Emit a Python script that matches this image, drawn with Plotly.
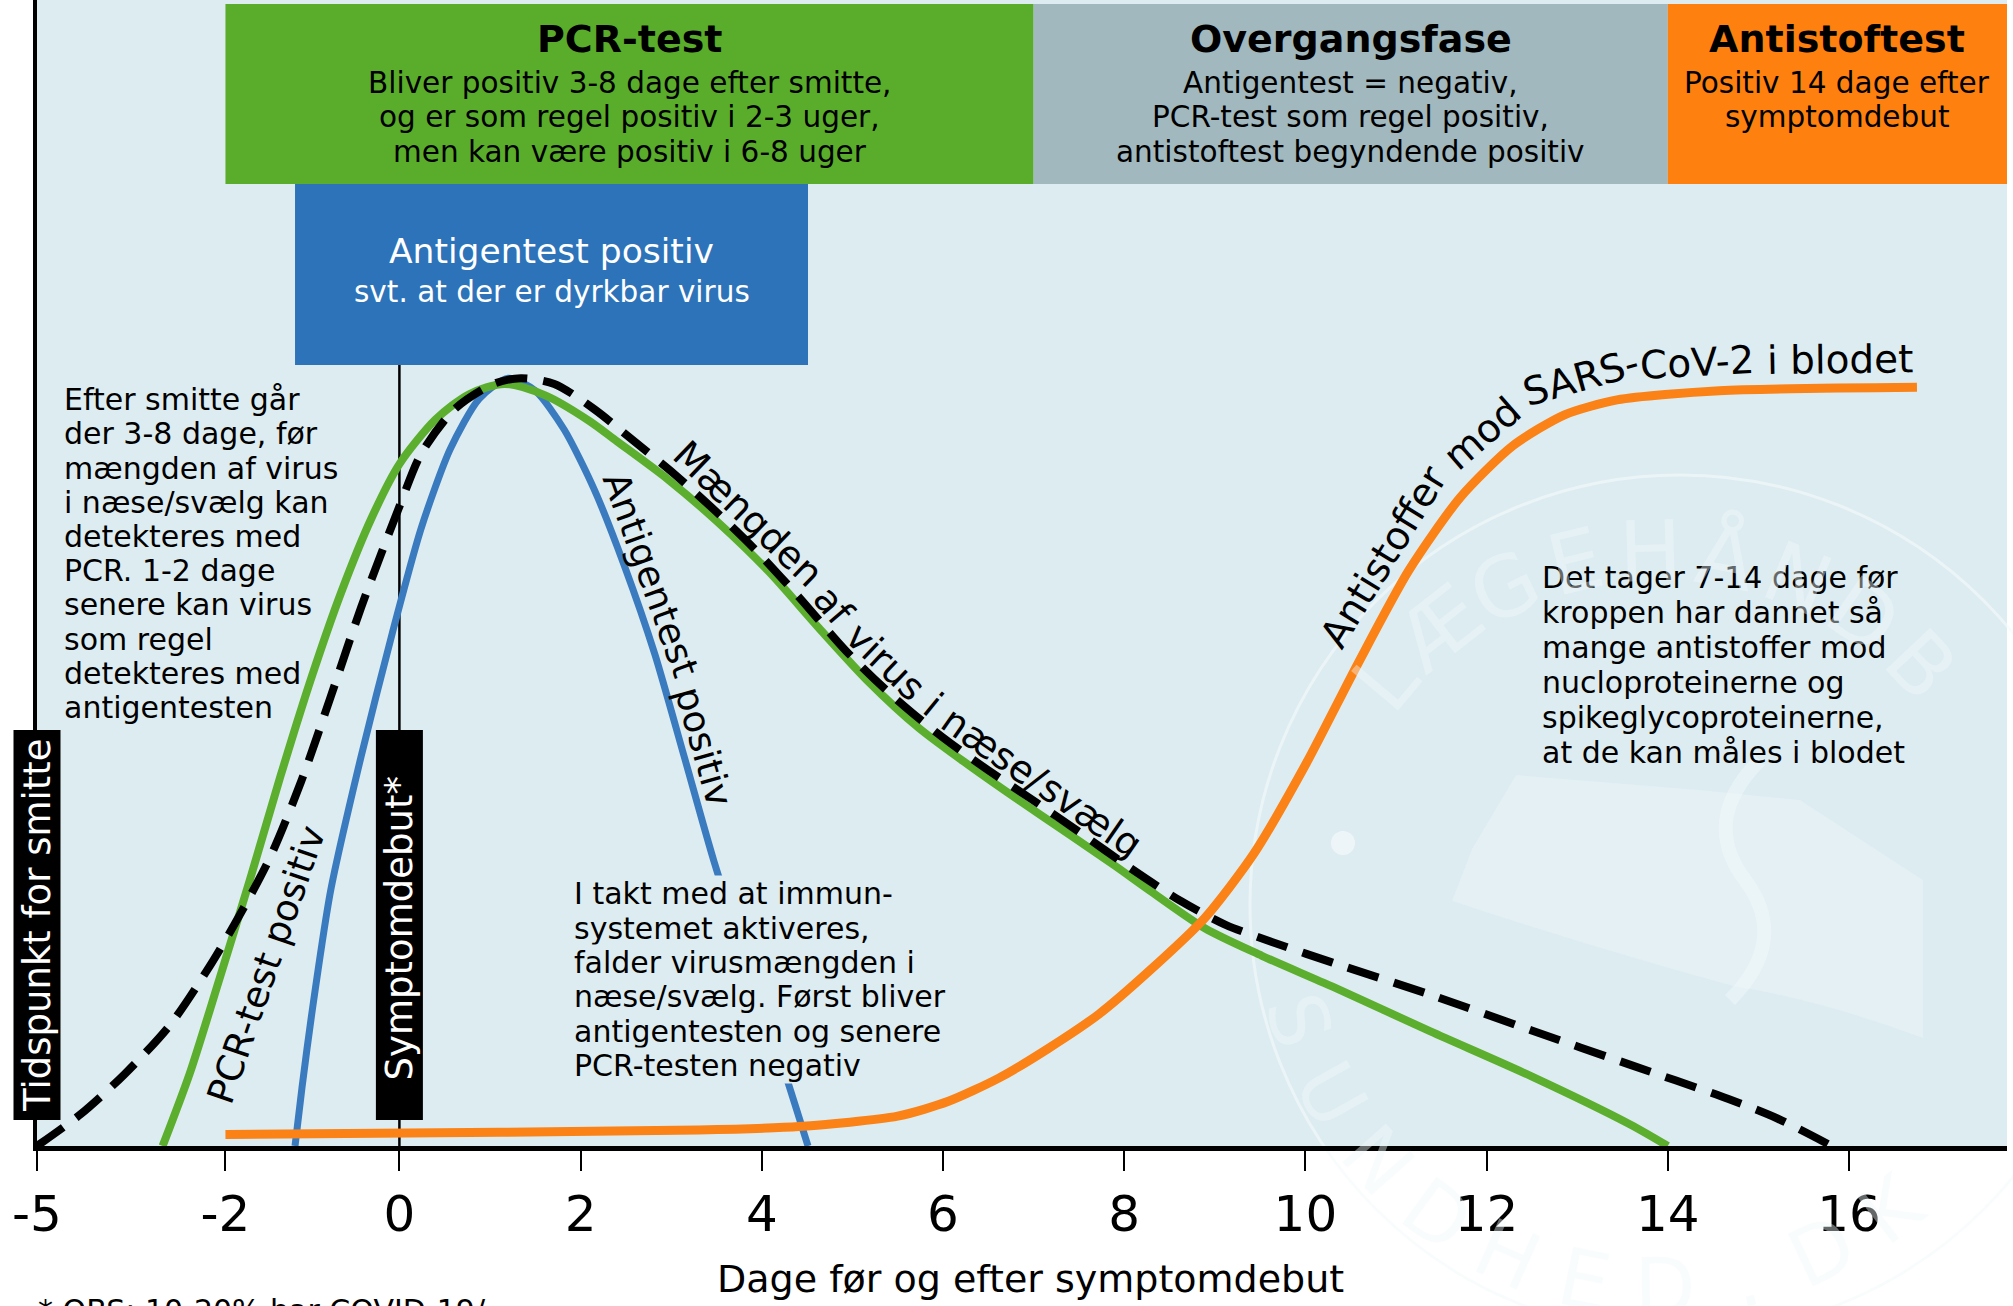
import numpy as np
import plotly.graph_objects as go

FONT = "DejaVu Sans"

# ---------------- data ----------------
tick_days = [-5, -2, 0, 2, 4, 6, 8, 10, 12, 14, 16]
tick_labels = ["-5", "-2", "0", "2", "4", "6", "8", "10", "12", "14", "16"]

# Amount of virus in nose/throat (black dashed), arbitrary units
virus_day = [-5.0, -4.30, -3.60, -2.89, -2.25, -1.84, -1.48, -1.13, -0.79, -0.44,
             0.0, 0.24, 0.61, 1.04, 1.34, 1.71, 2.15, 2.59, 3.04, 3.49,
             3.92, 4.41, 4.93, 5.44, 5.94, 6.46, 6.97, 7.54, 8.06, 8.62,
             9.12, 9.63, 10.30, 11.38, 12.49, 13.58, 14.67, 15.21, 15.81]
virus_amt = [0.0, 2.8, 6.3, 10.5, 15.7, 20.1, 25.3, 31.8, 39.2, 47.0,
             55.8, 60.4, 64.3, 66.5, 67.0, 66.5, 64.3, 61.5, 58.6, 55.4,
             52.1, 47.9, 43.2, 39.3, 36.0, 33.0, 30.3, 27.2, 24.3, 21.4,
             19.3, 17.8, 16.0, 13.2, 10.1, 7.1, 4.1, 2.4, 0.0]

# PCR-test positive (green)
pcr_day = [-3.0, -2.57, -2.10, -1.72, -1.37, -1.01, -0.67, -0.32, 0.0, 0.40,
           0.77, 1.16, 1.61, 2.09, 2.40, 2.96, 3.52, 4.08, 4.63, 5.18,
           5.73, 6.29, 6.85, 7.41, 7.89, 8.28, 8.89, 9.52, 10.30, 11.38,
           12.49, 13.58, 14.0]
pcr_amt = [0.0, 6.3, 14.5, 23.2, 32.2, 40.9, 48.3, 54.8, 59.5, 63.4,
           65.6, 66.5, 65.5, 63.3, 61.5, 58.2, 54.4, 50.1, 45.2, 40.5,
           36.5, 33.2, 30.1, 27.1, 24.5, 22.3, 19.0, 16.6, 13.9, 10.0,
           6.1, 1.9, 0.0]

# Antigen test positive (blue)
antigen_day = [-1.20, -1.12, -1.01, -0.79, -0.44, -0.08, 0.24, 0.56, 0.88, 1.20,
               1.50, 1.82, 2.15, 2.48, 2.82, 3.15, 3.47, 3.85, 4.23, 4.51]
antigen_amt = [0.0, 5.1, 11.4, 22.3, 34.0, 44.8, 53.9, 60.8, 65.2, 67.0,
               65.9, 62.5, 57.3, 50.7, 42.9, 33.8, 24.9, 15.7, 7.0, 0.0]

# Antibodies against SARS-CoV-2 in the blood (orange)
antibody_day = [-2.0, 1.11, 3.30, 4.41, 5.50, 6.06, 6.61, 7.16, 7.72, 8.28,
                8.89, 9.43, 10.01, 10.58, 11.14, 11.71, 12.29, 12.86, 13.44, 14.57, 16.75]
antibody_amt = [1.0, 1.2, 1.4, 1.7, 2.6, 3.9, 5.9, 8.5, 11.5, 15.3,
                19.9, 25.5, 33.4, 42.1, 50.2, 56.6, 61.1, 63.8, 65.1, 65.9, 66.2]

# Test phases (header boxes)
phase_names = ["PCR-test", "Overgangsfase", "Antistoftest"]
phase_start = [-2, 7, 14]
phase_end = [7, 14, 18]
phase_lines = [
    ["Bliver positiv 3-8 dage efter smitte,", "og er som regel positiv i 2-3 uger,",
     "men kan være positiv i 6-8 uger"],
    ["Antigentest = negativ,", "PCR-test som regel positiv,", "antistoftest begyndende positiv"],
    ["Positiv 14 dage efter", "symptomdebut"],
]
symptom_day = 0

# ---------------- styling / geometry ----------------
GREEN_BOX, GREY_BOX, ORANGE_BOX, BLUE_BOX = "#5aad2a", "#a1b8bf", "#fe800e", "#2c73b9"
GREEN, BLUE, ORANGE = "#5cae2e", "#3a7bbf", "#fb8216"
BG = "#ddecf1"
WM = "rgba(240,248,250,0.42)"

W, H = 2013, 1306
ML, MR, MT, MB = 37, 6, 0, 160
PW, PH = W - ML - MR, H - MT - MB
PX_PER_TICK = 181.2
X_MAX = PW / PX_PER_TICK
# tick slots on the (illustrative, non-uniform) day axis
TICK_POS = [0, 1.04, 2, 3, 4, 5, 6, 7, 8, 9, 10]
BOX_TOP, BOX_BOTTOM, AG_BOTTOM = 99.65, 83.95, 68.15

# DejaVu Sans advance widths (em) for the curve labels
DJV = {' ': .318, 'a': .613, 'b': .635, 'd': .635, 'e': .615, 'f': .352, 'g': .635,
       'i': .278, 'l': .278, 'm': .974, 'n': .634, 'o': .612, 'p': .635, 'r': .411,
       's': .521, 't': .392, 'u': .634, 'v': .592, 'A': .684, 'C': .698, 'M': .863,
       'R': .695, 'S': .635, 'V': .684, '-': .361, '/': .337, '2': .636, 'æ': .995}


def pos(d):
    d = np.atleast_1d(np.asarray(d, float))
    p = np.interp(d, tick_days, TICK_POS)
    step = tick_days[-1] - tick_days[-2]
    return np.where(d > tick_days[-1], TICK_POS[-1] + (d - tick_days[-1]) / step, p)


def fx(px):
    return (px - ML) / PW


def fy(py):
    return (MT + PH - py) / PH


def day_px(d):
    return ML + float(pos(d)[0]) * PX_PER_TICK


def to_px(days, amts):
    return ML + pos(days) * PX_PER_TICK, MT + PH - np.asarray(amts, float) * PH / 100.0


def catmull(x, y, n=24):
    pts = np.column_stack([x, y])
    P = np.vstack([pts[0], pts, pts[-1]])
    out = []
    for i in range(1, len(P) - 2):
        p0, p1, p2, p3 = P[i - 1], P[i], P[i + 1], P[i + 2]
        for t in np.linspace(0, 1, n, endpoint=False):
            out.append(0.5 * (2 * p1 + (p2 - p0) * t + (2 * p0 - 5 * p1 + 4 * p2 - p3) * t * t
                              + (3 * p1 - p0 - 3 * p2 + p3) * t ** 3))
    out.append(P[-2])
    return np.array(out)


fig = go.Figure()


def ann(text, x_px, y_px, size, color="black", angle=0, xanchor="center", bg=None):
    fig.add_annotation(x=fx(x_px), y=fy(y_px), xref="paper", yref="paper", text=text,
                       showarrow=False, xanchor=xanchor, yanchor="middle", textangle=angle,
                       font=dict(family=FONT, size=size, color=color), bgcolor=bg,
                       borderpad=0)


def lines_block(lines, x_px, baseline0, spacing, size, xanchor="left", color="black", bg=None):
    for i, ln in enumerate(lines):
        ann(ln, x_px, baseline0 + i * spacing - 0.346 * size, size, color=color,
            xanchor=xanchor, bg=bg)


def curve_label(chunks, days, amts, offset, x_start, size):
    pts = catmull(*to_px(days, amts))
    d = np.gradient(pts, axis=0)
    t = d / np.linalg.norm(d, axis=1)[:, None]
    up = np.column_stack([t[:, 1], -t[:, 0]])
    off = pts + offset * up
    s = np.concatenate([[0.0], np.cumsum(np.hypot(*np.diff(off, axis=0).T))])
    ang = np.degrees(np.arctan2(t[:, 1], t[:, 0]))
    cur = s[int(np.argmin(np.abs(off[:, 0] - x_start)))]
    for c in chunks:
        w = sum(DJV[ch] for ch in c) * size
        if c.strip():
            sc = cur + w / 2
            ann(c, float(np.interp(sc, s, off[:, 0])), float(np.interp(sc, s, off[:, 1])), size,
                angle=float(np.interp(sc, s, ang)))
        cur += w


# ---- watermark (faint, behind everything) ----
wcx, wcy, wr = 1680, 905, 430
fig.add_shape(type="circle", xref="paper", yref="paper", layer="below",
              x0=fx(wcx - wr), x1=fx(wcx + wr), y0=fy(wcy + wr), y1=fy(wcy - wr),
              line=dict(color="rgba(245,250,252,0.6)", width=3))
fig.add_shape(type="circle", xref="paper", yref="paper", layer="below",
              x0=fx(1331), x1=fx(1355), y0=fy(855), y1=fy(831),
              fillcolor="rgba(245,250,252,0.7)", line=dict(width=0))
fig.add_shape(type="path", xref="paper", yref="paper", layer="below",
              path=("M {} {} L {} {} L {} {} L {} {} L {} {} L {} {} L {} {} Q {} {} {} {} Q {} {} {} {} Z").format(
                  fx(1452), fy(901), fx(1472), fy(849), fx(1516), fy(775), fx(1700), fy(790),
                  fx(1800), fy(800), fx(1923), fy(880), fx(1923), fy(1038),
                  fx(1820), fy(1000), fx(1733), fy(986), fx(1600), fy(950), fx(1452), fy(901)),
              fillcolor="rgba(245,250,252,0.3)", line=dict(width=0))
fig.add_shape(type="path", xref="paper", yref="paper", layer="below",
              path=("M {} {} Q {} {} {} {} Q {} {} {} {}").format(
                  fx(1760), fy(760), fx(1700), fy(820), fx(1745), fy(880),
                  fx(1790), fy(940), fx(1730), fy(1000)),
              line=dict(color="rgba(245,250,252,0.45)", width=14))

# ---- phase boxes ----
for s, e, c in zip(phase_start, phase_end, [GREEN_BOX, GREY_BOX, ORANGE_BOX]):
    fig.add_shape(type="rect", xref="x", yref="y", layer="below",
                  x0=float(pos(s)[0]), x1=float(pos(e)[0]), y0=BOX_BOTTOM, y1=BOX_TOP,
                  fillcolor=c, line=dict(width=0))
fig.add_shape(type="rect", xref="x", yref="y", layer="below",
              x0=float(pos(antigen_day[0])[0]), x1=float(pos(antigen_day[-1])[0]),
              y0=AG_BOTTOM, y1=BOX_BOTTOM, fillcolor=BLUE_BOX, line=dict(width=0))
fig.add_shape(type="line", xref="x", yref="y", layer="below",
              x0=float(pos(symptom_day)[0]), x1=float(pos(symptom_day)[0]), y0=0, y1=AG_BOTTOM,
              line=dict(color="black", width=2.5))

# ---- curves ----
fig.add_trace(go.Scatter(x=pos(antigen_day), y=antigen_amt, mode="lines", hoverinfo="skip",
                         line=dict(color=BLUE, width=7, shape="spline", smoothing=0.7)))
fig.add_trace(go.Scatter(x=pos(pcr_day), y=pcr_amt, mode="lines", hoverinfo="skip",
                         line=dict(color=GREEN, width=8, shape="spline", smoothing=0.8)))
fig.add_trace(go.Scatter(x=pos(virus_day), y=virus_amt, mode="lines", hoverinfo="skip",
                         line=dict(color="black", width=8, dash="32px,16px", shape="spline",
                                   smoothing=0.8)))
fig.add_trace(go.Scatter(x=pos(antibody_day), y=antibody_amt, mode="lines", hoverinfo="skip",
                         line=dict(color=ORANGE, width=9, shape="spline", smoothing=0.7)))

# ---- black label boxes ----
for cx in [day_px(tick_days[0]), day_px(symptom_day)]:
    fig.add_shape(type="rect", xref="paper", yref="paper", layer="above",
                  x0=fx(cx - 23.5), x1=fx(cx + 23.5), y0=fy(1120), y1=fy(730),
                  fillcolor="black", line=dict(width=0))

# header texts
for name, s, e, lns in zip(phase_names, phase_start, phase_end, phase_lines):
    cx = (day_px(s) + min(day_px(e), W - MR)) / 2
    ann("<b>" + name + "</b>", cx, 52 - 0.346 * 38, 38)
    lines_block(lns, cx, 93, 34.5, 29.5, xanchor="center")

ag_cx = (day_px(antigen_day[0]) + day_px(antigen_day[-1])) / 2
ann("Antigentest positiv", ag_cx, 263 - 0.346 * 34.5, 34.5, color="white")
ann("svt. at der er dyrkbar virus", ag_cx, 302 - 0.346 * 29.5, 29.5, color="white")

# explanatory texts
lines_block(["Efter smitte går", "der 3-8 dage, før", "mængden af virus", "i næse/svælg kan",
             "detekteres med", "PCR. 1-2 dage", "senere kan virus", "som regel",
             "detekteres med", "antigentesten"], 63, 410, 34.2, 30)
lines_block(["I takt med at immun-", "systemet aktiveres,", "falder virusmængden i",
             "næse/svælg. Først bliver", "antigentesten og senere", "PCR-testen negativ"],
            573, 904, 34.4, 30, bg=BG)
lines_block(["Det tager 7-14 dage før", "kroppen har dannet så", "mange antistoffer mod",
             "nucloproteinerne og", "spikeglycoproteinerne,", "at de kan måles i blodet"],
            1541, 588, 34.9, 30)

# rotated labels
ann("Tidspunkt for smitte", day_px(tick_days[0]), 925, 37, color="white", angle=-90)
ann("Symptomdebut*", day_px(symptom_day), 928, 37, color="white", angle=-90)
ann("PCR-test positiv", 266, 965, 37, angle=-71)
curve_label(["Antigentest", " ", "positiv"], antigen_day, antigen_amt, 21, 611, 37)
curve_label(["Mængden", " ", "af", " ", "virus", " ", "i", " ", "næse/", "svælg"],
            virus_day, virus_amt, 20, 677, 38)
curve_label(["Antistoffer", " ", "mod", " ", "SARS-", "CoV-2", " ", "i", " ", "blodet"],
            antibody_day, antibody_amt, 29, 1334, 39)

# axis title and footnote
ann("Dage før og efter symptomdebut", 1030, 1279, 38)
fig.add_annotation(x=fx(36), y=fy(1291), xref="paper", yref="paper",
                   text="* OBS: 10-20% har COVID-19/", showarrow=False,
                   xanchor="left", yanchor="top", font=dict(family=FONT, size=30, color="black"))

# watermark letters along arcs
lcx, lcy = 1660, 910
for i, ch in enumerate("LÆGEHÅNDBOGEN"):
    th = np.deg2rad(140 - 12.1 * i)
    x, y = lcx + 358 * np.cos(th), lcy - 358 * np.sin(th)
    if x < 1950:
        ann(ch, x, y, 84, color=WM, angle=90 - np.rad2deg(th))
for i, ch in enumerate("SUNDHED.DK"):
    th = np.deg2rad(197 + 12.3 * i)
    x, y = lcx + 378 * np.cos(th), lcy - 378 * np.sin(th)
    ann(ch, x, y, 80, color=WM, angle=-90 - np.rad2deg(th))

fig.update_layout(
    width=W, height=H, margin=dict(l=ML, r=MR, t=MT, b=MB),
    paper_bgcolor="white", plot_bgcolor=BG, showlegend=False,
    xaxis=dict(range=[0, X_MAX], tickmode="array", tickvals=TICK_POS,
               ticktext=tick_labels, showline=True, linewidth=5, linecolor="black",
               ticks="outside", ticklen=20, tickwidth=2, tickcolor="black",
               tickfont=dict(family=FONT, size=50, color="black"),
               showgrid=False, zeroline=False),
    yaxis=dict(range=[0, 100], showline=True, linewidth=4, linecolor="black",
               showticklabels=False, ticks="", showgrid=False, zeroline=False),
)

fig.write_html("out.html", config={"displayModeBar": False, "staticPlot": True},
               post_script="document.body.style.margin='0px';")
